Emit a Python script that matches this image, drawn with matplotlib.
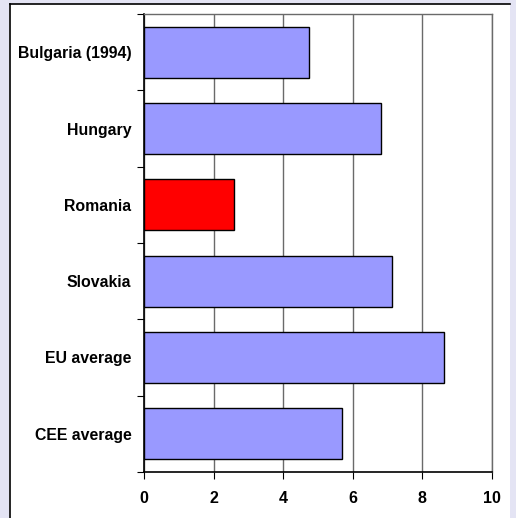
import numpy as np
import matplotlib.pyplot as plt
from matplotlib.patches import Rectangle
from matplotlib.lines import Line2D

# data
countries = ['Bulgaria (1994)', 'Hungary', 'Romania', 'Slovakia', 'EU average', 'CEE average']
values = [4.75, 6.8, 2.6, 7.13, 8.62, 5.7]
bar_colors = ['#9999FF', '#9999FF', '#FF0000', '#9999FF', '#9999FF', '#9999FF']
xticks = [0, 2, 4, 6, 8, 10]

plt.rcParams['font.family'] = ['Liberation Sans', 'DejaVu Sans']

W, H = 516, 518
fig = plt.figure(figsize=(W/100, H/100), dpi=100)
fig.patch.set_facecolor('#E4E4F4')

# white panel with black top/left border
fig.patches.append(Rectangle((9/W, 0), (510-9)/W, (H-4)/H, transform=fig.transFigure,
                             facecolor='white', edgecolor='none', zorder=-10))
fig.lines.append(Line2D([10/W, 10/W], [0, (H-4)/H], transform=fig.transFigure, color='black', lw=1.2, zorder=-5))
fig.lines.append(Line2D([10/W, 510/W], [(H-4)/H, (H-4)/H], transform=fig.transFigure, color='black', lw=1.2, zorder=-5))

ax = fig.add_axes([144/W, 46/H, (492-144)/W, (472-14)/H])
ax.set_zorder(1)
ax.set_facecolor('white')

y = np.arange(len(countries))
ax.barh(y, values, height=0.67, color=bar_colors, edgecolor='black', linewidth=1, zorder=3)

ax.set_xlim(0, 10)
ax.set_ylim(len(countries) - 0.5, -0.5)
ax.set_xticks(xticks)
ax.set_xticklabels([str(t) for t in xticks], fontsize=11.5, fontweight='bold')
ax.xaxis.grid(True, color='#6a6a6a', linewidth=1, zorder=0)

# category boundaries as ticks, labels at centres
ax.set_yticks(np.arange(-0.5, len(countries)), minor=False)
ax.set_yticklabels([])
ax.set_yticks(y, minor=True)
ax.set_yticklabels(countries, minor=True, fontsize=11.4, fontweight='bold')
ax.tick_params(axis='y', which='major', length=5, direction='out', color='black')
ax.tick_params(axis='y', which='minor', length=0, pad=9)
ax.tick_params(axis='x', length=5, direction='out', pad=9, color='black')

for s in ['left', 'bottom']:
    ax.spines[s].set_color('black')
    ax.spines[s].set_linewidth(1.2)
for s in ['top', 'right']:
    ax.spines[s].set_color('#6a6a6a')
    ax.spines[s].set_linewidth(1)

plt.savefig('out.png', dpi=100, facecolor=fig.get_facecolor())
